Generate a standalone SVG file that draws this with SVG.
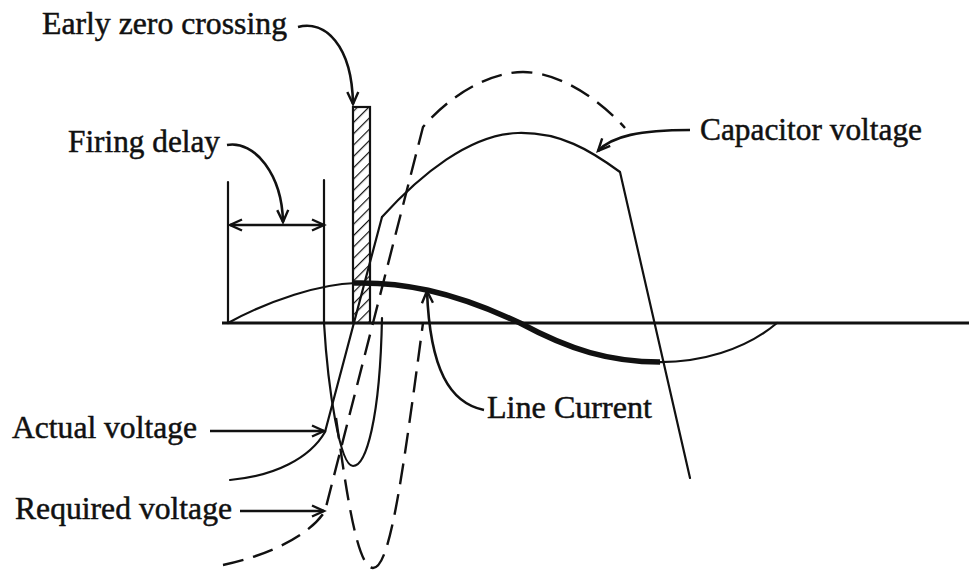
<svg xmlns="http://www.w3.org/2000/svg" width="969" height="570" viewBox="0 0 969 570">
<style>
.t{font-family:"Liberation Serif","Times New Roman",serif;font-size:32px;fill:#111;stroke:#111;stroke-width:0.5}
.c{fill:none;stroke:#111;stroke-width:2.2;stroke-linejoin:round;stroke-linecap:round}
.d{fill:none;stroke:#111;stroke-width:2.4;stroke-dasharray:21 10}
.a{fill:none;stroke:#111;stroke-width:2.6;marker-end:url(#ah)}
</style>
<defs>
<marker id="ah" markerWidth="16" markerHeight="14" refX="13" refY="7" orient="auto-start-reverse" markerUnits="userSpaceOnUse">
<path d="M1,1.5 L13,7 L1,12.5" fill="none" stroke="#111" stroke-width="2.4"/>
</marker>
<pattern id="hatch" patternUnits="userSpaceOnUse" width="8" height="8" patternTransform="rotate(45)">
<line x1="0" y1="0" x2="0" y2="8" stroke="#111" stroke-width="2.4"/>
</pattern>
</defs>
<rect width="969" height="570" fill="#fff"/>

<g id="hatched-bar">
<rect x="353" y="107" width="17" height="216" fill="#fff"/>
<rect x="353" y="107" width="17" height="216" fill="url(#hatch)" stroke="#111" stroke-width="2.2"/>
</g>

<g id="axis">
<line x1="222" y1="323" x2="969" y2="323" stroke="#111" stroke-width="3"/>
</g>

<g id="firing-delay-marks">
<line x1="228" y1="182" x2="228" y2="323" class="c"/>
</g>

<g id="line-current">
<path class="c" d="M228,323 C270,300 320,284 356,283"/>
<path d="M354,283 C400,282 450,290 520,323 C570,350 610,362 660,362" fill="none" stroke="#111" stroke-width="5.5"/>
<path class="c" d="M655,362 C700,363 745,350 777,323"/>
</g>

<g id="actual-voltage">
<path class="c" d="M324,180 L324,323 C328,390 340,466 353,466 C366,466 380,420 382,318"/>
<path class="c" d="M230,480 C275,476 310,458 325,432 L382,217"/>
</g>

<g id="capacitor-voltage">
<path class="c" d="M382,217 C420,175 470,134 518,133 C560,132 590,150 620,172 L690,478"/>
</g>

<g id="required-voltage">
<path class="d" d="M223,565 C270,555 310,535 325,511 L423,127 C450,95 490,72 523,72 C560,72 600,100 625,128"/>
<path class="d" d="M336,418 C345,480 356,568 373,568 C390,568 402,480 423,323"/>
</g>

<g id="connectors">
<path class="a" d="M298,27 C325,20 352,45 353,104"/>
<path class="a" d="M227,145 C255,140 282,175 283,222"/>
<line x1="230" y1="225" x2="324" y2="225" class="a" style="marker-start:url(#ah)"/>
<path class="a" d="M690,130 C640,130 612,136 598,151"/>
<path class="a" d="M484,410 C450,403 430,370 427,291"/>
<line x1="210" y1="431" x2="324" y2="431" class="a"/>
<line x1="240" y1="511" x2="324" y2="511" class="a"/>
</g>

<g id="labels">
<text class="t" x="42" y="34" textLength="245" lengthAdjust="spacingAndGlyphs">Early zero crossing</text>
<text class="t" x="68" y="152" textLength="152" lengthAdjust="spacingAndGlyphs">Firing delay</text>
<text class="t" x="700" y="140" textLength="222" lengthAdjust="spacingAndGlyphs">Capacitor voltage</text>
<text class="t" x="487" y="418" textLength="165" lengthAdjust="spacingAndGlyphs">Line Current</text>
<text class="t" x="12" y="438" textLength="185" lengthAdjust="spacingAndGlyphs">Actual voltage</text>
<text class="t" x="15" y="519" textLength="217" lengthAdjust="spacingAndGlyphs">Required voltage</text>
</g>
</svg>
